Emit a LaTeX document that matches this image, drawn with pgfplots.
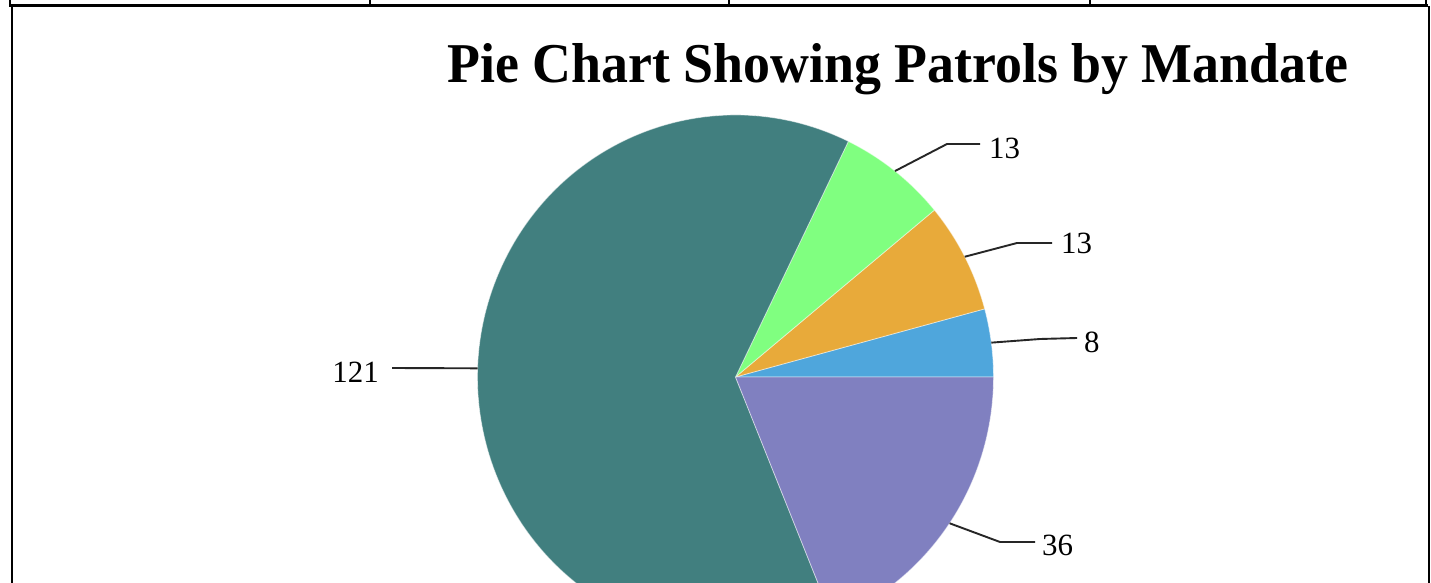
\documentclass[border=0pt]{standalone}
\usepackage{pgfplots}
\pgfplotsset{compat=1.18}
\usepackage{graphicx}
\usepackage{fontspec}
\setmainfont{Liberation Serif}
\definecolor{cBlue}{RGB}{79,166,220}
\definecolor{cOrange}{RGB}{232,170,58}
\definecolor{cGreen}{RGB}{128,255,128}
\definecolor{cTeal}{RGB}{65,127,127}
\definecolor{cPurple}{RGB}{128,128,192}
\begin{document}
\begin{tikzpicture}[x=1bp,y=1bp]
\useasboundingbox (0,0) rectangle (1431,583);
\clip (0,0) rectangle (1431,583);
\fill[white] (0,0) rectangle (1431,583);
% data
\pgfmathsetmacro\vA{8}
\pgfmathsetmacro\vB{13}
\pgfmathsetmacro\vC{13}
\pgfmathsetmacro\vD{121}
\pgfmathsetmacro\vE{36}
\pgfmathsetmacro\tot{\vA+\vB+\vC+\vD+\vE}
\pgfmathsetmacro\aA{\vA/\tot*360}
\pgfmathsetmacro\aB{\aA+\vB/\tot*360}
\pgfmathsetmacro\aC{\aB+\vC/\tot*360}
\pgfmathsetmacro\aD{\aC+\vD/\tot*360}
\pgfmathsetmacro\mA{\aA/2}
\pgfmathsetmacro\mB{(\aA+\aB)/2}
\pgfmathsetmacro\mC{(\aB+\aC)/2}
\pgfmathsetmacro\mD{(\aC+\aD)/2}
\pgfmathsetmacro\mE{(\aD+360)/2}
\begin{axis}[at={(0,0)}, anchor=south west, scale only axis,
  width=1431bp, height=583bp, xmin=0, xmax=1431, ymin=0, ymax=583,
  y dir=reverse, hide axis, clip=false]
% table border lines
\draw[line width=2bp] (axis cs:10,0) -- (axis cs:10,6);
\draw[line width=2bp] (axis cs:369.5,0) -- (axis cs:369.5,6);
\draw[line width=2bp] (axis cs:728.5,0) -- (axis cs:728.5,6);
\draw[line width=2bp] (axis cs:1089.5,0) -- (axis cs:1089.5,6);
\draw[line width=2bp] (axis cs:1426,0) -- (axis cs:1426,6);
\draw[line width=3.5bp] (axis cs:9,5.5) -- (axis cs:1427.5,5.5);
\draw[line width=2bp] (axis cs:12,6) -- (axis cs:12,590);
\draw[line width=2bp] (axis cs:1429,6) -- (axis cs:1429,590);
% wedges
\tikzset{wedge/.style={draw=white, draw opacity=0.5, line width=0.8bp}}
\filldraw[wedge, fill=cBlue] (axis cs:735.5,377) -- ++(0:258bp and 262bp) arc[start angle=0, end angle=\aA, x radius=258bp, y radius=262bp] -- cycle;
\filldraw[wedge, fill=cOrange] (axis cs:735.5,377) -- ++(\aA:258bp and 262bp) arc[start angle=\aA, end angle=\aB, x radius=258bp, y radius=262bp] -- cycle;
\filldraw[wedge, fill=cGreen] (axis cs:735.5,377) -- ++(\aB:258bp and 262bp) arc[start angle=\aB, end angle=\aC, x radius=258bp, y radius=262bp] -- cycle;
\filldraw[wedge, fill=cTeal] (axis cs:735.5,377) -- ++(\aC:258bp and 262bp) arc[start angle=\aC, end angle=\aD, x radius=258bp, y radius=262bp] -- cycle;
\filldraw[wedge, fill=cPurple] (axis cs:735.5,377) -- ++(\aD:258bp and 262bp) arc[start angle=\aD, end angle=360, x radius=258bp, y radius=262bp] -- cycle;
% leader lines
\tikzset{lead/.style={draw=black!85, line width=1.9bp}}
\draw[lead] (axis cs:735.5,377) ++(\mA:258bp and 262bp) -- (axis cs:1040,339) -- (axis cs:1077,338);
\draw[lead] (axis cs:735.5,377) ++(\mB:258bp and 262bp) -- (axis cs:1017,243) -- (axis cs:1052,243);
\draw[lead] (axis cs:735.5,377) ++(\mC:258bp and 262bp) -- (axis cs:947,144) -- (axis cs:980,144);
\draw[lead] (axis cs:735.5,377) ++(\mD:258bp and 262bp) -- (axis cs:392,368);
\draw[lead] (axis cs:735.5,377) ++(\mE:258bp and 262bp) -- (axis cs:1000,542) -- (axis cs:1035,542);
% labels
\tikzset{lab/.style={inner sep=0pt, font=\fontsize{31}{31}\selectfont}}
\node[lab, anchor=base west] at (axis cs:1084,353) {8};
\node[lab, anchor=base west] at (axis cs:1061,254) {13};
\node[lab, anchor=base west] at (axis cs:989,159) {13};
\node[lab, anchor=base east] at (axis cs:379,382) {121};
\node[lab, anchor=base west] at (axis cs:1042,555) {36};
% title
\node[inner sep=0pt, anchor=base west] at (axis cs:447,83) {\resizebox{901bp}{39bp}{\bfseries Pie Chart Showing Patrols by Mandate}};
\end{axis}
\end{tikzpicture}
\end{document}
